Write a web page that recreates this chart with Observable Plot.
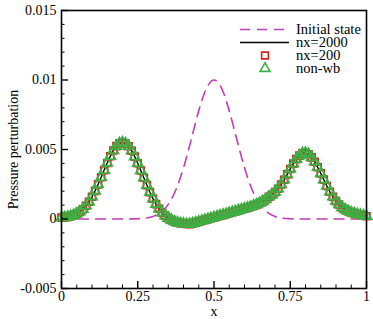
<!DOCTYPE html>
<html><head><meta charset="utf-8">
<script src="https://cdn.jsdelivr.net/npm/d3@7"></script>
<script src="https://cdn.jsdelivr.net/npm/@observablehq/plot@0.6"></script>
<style>
body{margin:0;background:#fff;}
#chart{position:relative;width:373px;height:319px;}
</style>
</head><body><div id="chart"></div>
<script>
// ---- data ----
const xStep = 0.01;            // spacing of plotted points (nx=200 shown every other cell)
const perturbation = [          // nx=2000 line; nx=200 and non-wb coincide with it
  0.0001, 0.00012, 0.00015, 0.0002, 0.00028, 0.00038, 0.00052, 0.0007, 0.00095, 0.00124,
  0.0016, 0.00202, 0.00249, 0.003, 0.00352, 0.00403, 0.00451, 0.00493, 0.00524, 0.00544,
  0.0055, 0.00543, 0.00523, 0.00491, 0.00449, 0.00401, 0.00349, 0.00297, 0.00244, 0.00193,
  0.00146, 0.00107, 0.00074, 0.00045, 0.00024, 0.00006, -0.00007, -0.00018, -0.00026, -0.00031,
  -0.00034, -0.00036, -0.00037, -0.00032, -0.00026, -0.0002, -0.00013, -0.00007, -0.00001, 0.00005,
  0.00011, 0.00018, 0.00024, 0.0003, 0.00036, 0.00043, 0.00049, 0.00055, 0.00062, 0.00068,
  0.00075, 0.00081, 0.00088, 0.00096, 0.00104, 0.00115, 0.00127, 0.00142, 0.0016, 0.00174,
  0.00193, 0.00218, 0.00248, 0.00282, 0.00321, 0.0036, 0.00398, 0.00431, 0.00456, 0.00472,
  0.00475, 0.00466, 0.00443, 0.00412, 0.00372, 0.00328, 0.00283, 0.00237, 0.00196, 0.0016,
  0.00129, 0.00104, 0.00083, 0.00068, 0.00056, 0.00047, 0.0004, 0.00034, 0.00029, 0.00025,
  0.0002
];
const nx2000 = perturbation;
const nx200 = perturbation;
const nonWb = perturbation;

const initialStep = 0.025;
const initialState = [
  0, 0, 0, 0, 0, 0, 0, 0, 0,
  0.000005, 0.00002, 0.00006, 0.00018, 0.00047, 0.00105, 0.0021, 0.00368, 0.0057, 0.00779, 0.00939,
  0.01,
  0.00939, 0.00779, 0.0057, 0.00368, 0.0021, 0.00105, 0.00047, 0.00018, 0.00006, 0.00002, 0.000005,
  0, 0, 0, 0, 0, 0, 0, 0, 0
];

const xTicks = [0, 0.25, 0.5, 0.75, 1];
const xTickLabels = ["0", "0.25", "0.5", "0.75", "1"];
const yTicks = [-0.005, 0, 0.005, 0.01, 0.015];
const yTickLabels = ["-0.005", "0", "0.005", "0.01", "0.015"];
const legendLabels = ["Initial state", "nx=2000", "nx=200", "non-wb"];

// ---- build ----
const FONT = "'Liberation Serif', 'Times New Roman', serif";
const C_INIT = "#c43bb4", C_SQ = "#d42424", C_TRI = "#3cb043";
const toPts = (arr, step) => arr.map((y, i) => ({x: i * step, y}));
const linePts = toPts(nx2000, xStep);
const sqPts = toPts(nx200, xStep);
const triPts = toPts(nonWb, xStep);
const initPts = toPts(initialState, initialStep);

const xMinor = d3.range(0, 21).map(i => i * 0.05).filter(v => !xTicks.some(t => Math.abs(t - v) < 1e-9));
const yMinor = d3.range(0, 21).map(i => -0.005 + i * 0.001).filter(v => !yTicks.some(t => Math.abs(t - v) < 1e-9));

const plot = Plot.plot({
  width: 373, height: 319,
  marginLeft: 61, marginRight: 7, marginTop: 10, marginBottom: 31,
  x: {domain: [0, 1]},
  y: {domain: [-0.005, 0.015]},
  style: {fontFamily: FONT, fontSize: "14px", background: "white", color: "black", overflow: "visible"},
  marks: [
    Plot.line(initPts, {x: "x", y: "y", stroke: C_INIT, strokeWidth: 1.6, strokeDasharray: "10,7", curve: "monotone-x"}),
    Plot.line(linePts, {x: "x", y: "y", stroke: "black", strokeWidth: 1.4}),
    Plot.dot(sqPts, {x: "x", y: "y", symbol: "square", r: 3.9, stroke: C_SQ, strokeWidth: 1.7, fill: "none"}),
    Plot.dot(triPts, {x: "x", y: "y", symbol: "triangle", r: 3.8, stroke: C_TRI, strokeWidth: 1.7, fill: "none"}),
    Plot.axisX(xTicks, {tickSize: 0, tickPadding: 3, tickFormat: d => xTickLabels[xTicks.indexOf(d)], label: "x", labelAnchor: "center", labelArrow: "none", labelOffset: 27}),
    Plot.axisX(xTicks, {tickSize: -7, tickFormat: () => "", label: null, strokeWidth: 1.4}),
    Plot.axisX(xMinor, {tickSize: -3.5, tickFormat: () => "", label: null, strokeWidth: 1}),
    Plot.axisY(yTicks, {tickSize: 0, tickPadding: 5, tickFormat: d => yTickLabels[yTicks.indexOf(d)], label: "Pressure perturbation", labelAnchor: "center", labelArrow: "none", labelOffset: 53}),
    Plot.axisY(yTicks, {tickSize: -7, tickFormat: () => "", label: null, strokeWidth: 1.4}),
    Plot.axisY(yMinor, {tickSize: -3.5, tickFormat: () => "", label: null, strokeWidth: 1}),
    Plot.frame({stroke: "black", strokeWidth: 1.6})
  ]
});
document.getElementById("chart").appendChild(plot);

// ---- legend (inside the frame, top right) ----
const svg = d3.select(plot);
const lg = svg.append("g").attr("font-family", FONT).attr("font-size", 14.5)
  .attr("fill", "black").attr("text-anchor", "start");
legendLabels.forEach((t, i) => lg.append("text").attr("x", 296).attr("y", 34 + 13 * i).text(t));
lg.append("line").attr("x1", 240).attr("x2", 284).attr("y1", 29.5).attr("y2", 29.5)
  .attr("stroke", C_INIT).attr("stroke-width", 1.6).attr("stroke-dasharray", "10,7");
lg.append("line").attr("x1", 240).attr("x2", 289).attr("y1", 42.5).attr("y2", 42.5)
  .attr("stroke", "black").attr("stroke-width", 1.4);
lg.append("path").attr("d", d3.symbol(d3.symbolSquare, Math.PI * 3.8 * 3.8)())
  .attr("transform", "translate(265,55.5)").attr("fill", "none").attr("stroke", C_SQ).attr("stroke-width", 1.6);
lg.append("path").attr("d", d3.symbol(d3.symbolTriangle, Math.PI * 3.7 * 3.7)())
  .attr("transform", "translate(265,68.5)").attr("fill", "none").attr("stroke", C_TRI).attr("stroke-width", 1.6);
</script>
</body></html>
